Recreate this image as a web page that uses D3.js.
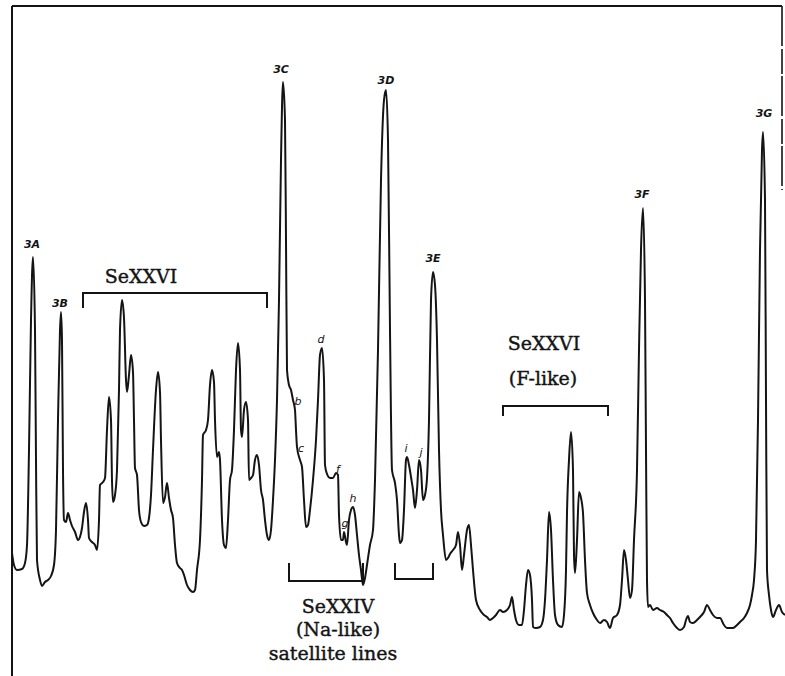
<!DOCTYPE html>
<html>
<head>
<meta charset="utf-8">
<script src="https://cdn.jsdelivr.net/npm/d3@7"></script>
<style>
  body { margin: 0; background: #fff; }
  svg { display: block; }
</style>
</head>
<body>
<svg width="785" height="676"></svg>
<script>
// spectrum trace: position (arb. units) and intensity (arb. units)
var position = [0,2,5,10,13,15,17,19,21,23,24,25,28,30,33,36,39,42,44,46,48,49,50,51,52,54,56,58,60,63,66,68,70,72,74,76,77,80,83,85,87,88,91,93,95,97,99,100,101,103,105,107,108,110,112,114,115,117,119,121,122,123,125,127,129,132,135,137,139,141,144,146,148,149,151,153,155,157,159,161,163,165,168,170,172,175,178,181,183,185,188,190,191,194,196,198,200,202,203,205,207,208,210,212,214,216,218,220,222,224,226,228,229,230,232,234,236,237,239,241,243,245,247,249,251,253,255,257,259,261,263,265,267,269,271,273,274,275,277,279,281,283,284,285,288,290,292,294,296,298,301,304,306,308,310,312,313,315,318,321,324,326,327,329,331,332,334,335,337,339,341,343,345,347,349,351,353,355,358,361,363,366,369,372,374,376,378,380,383,385,387,388,390,392,394,395,397,399,401,403,405,407,409,411,413,415,417,419,421,423,425,427,429,431,434,436,438,441,444,446,448,450,452,455,457,459,461,464,468,472,475,478,481,484,488,491,495,498,500,502,504,507,510,512,514,516,518,520,521,524,528,531,533,535,537,539,541,543,546,550,552,554,555,557,559,561,562,563,565,567,569,571,573,575,578,581,585,588,592,595,598,601,605,608,610,612,614,616,618,620,622,625,627,629,631,633,634,635,636,638,641,645,648,652,655,658,661,665,668,672,674,676,678,681,685,688,692,695,698,701,705,708,712,715,718,721,725,728,732,735,738,740,742,744,746,748,750,751,753,754,755,757,759,761,764,767,770,773];
var intensity = [123,111,106,107,113,131,226,356,419,346,216,116,96,90,94,96,100,111,146,256,346,364,336,206,156,154,163,156,150,144,136,139,148,164,173,156,138,134,131,126,156,191,194,198,246,279,256,196,174,181,206,286,346,376,358,296,284,301,321,304,256,208,201,166,154,150,151,158,181,226,286,304,284,236,173,179,193,178,166,158,131,113,108,106,101,91,86,84,86,106,136,196,241,246,256,291,306,294,256,219,224,216,156,131,128,156,196,206,246,306,333,306,246,239,266,274,256,196,198,201,216,221,211,186,176,156,141,136,146,176,216,276,376,516,594,556,436,306,291,286,276,266,246,229,216,209,176,149,151,166,196,236,276,321,328,296,211,202,198,198,203,201,161,136,136,144,134,131,156,166,169,161,141,121,106,91,98,111,131,146,196,326,496,576,586,536,346,206,193,176,141,133,136,166,216,219,211,199,186,168,186,216,206,176,181,198,256,376,404,391,336,226,166,141,116,118,122,126,131,144,131,106,121,146,151,131,106,76,66,61,59,56,58,61,66,64,66,71,79,66,56,51,51,66,91,106,101,76,49,48,49,56,76,116,164,146,96,61,51,49,61,106,163,216,244,206,121,103,136,184,178,163,116,83,71,63,56,53,56,54,48,58,61,71,96,126,116,96,78,86,136,206,326,426,468,376,226,96,69,71,66,68,66,64,61,58,53,48,46,49,56,60,54,53,56,59,64,71,66,61,58,58,51,48,48,48,51,54,58,63,71,81,96,136,256,426,526,544,476,276,106,81,66,59,66,71,64,61];

// labelled lines: name, label position, label height
var peakNames = ["3A", "3B", "3C", "3D", "3E", "3F", "3G"];
var peakPos = [20, 48, 269, 374, 421, 630, 752];
var peakTop = [428, 369, 603, 592, 414, 478, 559];

// satellite letters
var satNames = ["b", "c", "d", "f", "g", "h", "i", "j"];
var satPos = [286, 289, 309, 326, 333, 341, 394, 409];
var satTop = [271, 224, 333, 203, 149, 174, 224, 220];

// brackets: start, end, level, tick end
var brackets = [
  [71, 255, 383, 368],
  [491, 596, 270, 260],
  [277, 351, 95, 113],
  [383, 421, 97, 113]
];

// bracket captions: text, position, height
var captionText = ["SeXXVI", "SeXXVI", "(F-like)", "SeXXIV", "(Na-like)", "satellite lines"];
var captionPos = [129, 532, 531, 326, 326, 321];
var captionTop = [393, 326, 291, 63, 40, 16];

var svg = d3.select("svg"),
    width = +svg.attr("width"),
    height = +svg.attr("height");

var x = d3.scaleLinear().domain([0, 770]).range([12, 782]),
    y = d3.scaleLinear().domain([0, 670]).range([676, 6]);

var ink = "#141414";

// frame: top, left and the short right edge
var frame = svg.append("g")
    .attr("stroke", ink)
    .attr("fill", "none");

frame.append("line")
    .attr("x1", x(0)).attr("x2", x(770))
    .attr("y1", y(670)).attr("y2", y(670))
    .attr("stroke-width", 2.2);

frame.append("line")
    .attr("x1", x(0)).attr("x2", x(0))
    .attr("y1", y(670)).attr("y2", y(0))
    .attr("stroke-width", 2);

frame.append("line")
    .attr("x1", x(770)).attr("x2", x(770))
    .attr("y1", y(670)).attr("y2", y(486))
    .attr("stroke-width", 1.6)
    .attr("stroke-dasharray", "40,3,25,2");

// the trace
var line = d3.line()
    .x(function(d, i) { return x(position[i]); })
    .y(function(d, i) { return y(intensity[i]); })
    .curve(d3.curveMonotoneX);

svg.append("path")
    .datum(position)
    .attr("d", line)
    .attr("fill", "none")
    .attr("stroke", ink)
    .attr("stroke-width", 2)
    .attr("stroke-linejoin", "round");

// brackets
svg.selectAll(".bracket")
    .data(brackets)
    .enter()
    .append("path")
    .attr("class", "bracket")
    .attr("d", function(b) {
      return "M" + x(b[0]) + "," + y(b[3]) +
             "L" + x(b[0]) + "," + y(b[2]) +
             "L" + x(b[1]) + "," + y(b[2]) +
             "L" + x(b[1]) + "," + y(b[3]);
    })
    .attr("fill", "none")
    .attr("stroke", ink)
    .attr("stroke-width", 2);

// peak labels
svg.selectAll(".peak")
    .data(peakNames)
    .enter()
    .append("text")
    .attr("class", "peak")
    .attr("x", function(d, i) { return x(peakPos[i]); })
    .attr("y", function(d, i) { return y(peakTop[i]); })
    .attr("text-anchor", "middle")
    .style("font-family", "DejaVu Sans")
    .style("font-weight", "bold")
    .style("font-style", "italic")
    .style("font-size", "11px")
    .style("fill", ink)
    .text(function(d) { return d; });

// satellite letters
svg.selectAll(".sat")
    .data(satNames)
    .enter()
    .append("text")
    .attr("class", "sat")
    .attr("x", function(d, i) { return x(satPos[i]); })
    .attr("y", function(d, i) { return y(satTop[i]); })
    .attr("text-anchor", "middle")
    .style("font-family", "DejaVu Sans")
    .style("font-style", "italic")
    .style("font-size", "11px")
    .style("fill", ink)
    .text(function(d) { return d; });

// captions
svg.selectAll(".caption")
    .data(captionText)
    .enter()
    .append("text")
    .attr("class", "caption")
    .attr("x", function(d, i) { return x(captionPos[i]); })
    .attr("y", function(d, i) { return y(captionTop[i]); })
    .attr("text-anchor", "middle")
    .style("font-family", "DejaVu Serif")
    .style("font-size", "19px")
    .style("fill", ink)
    .style("stroke", ink)
    .style("stroke-width", 0.4)
    .text(function(d) { return d; });
</script>
</body>
</html>
